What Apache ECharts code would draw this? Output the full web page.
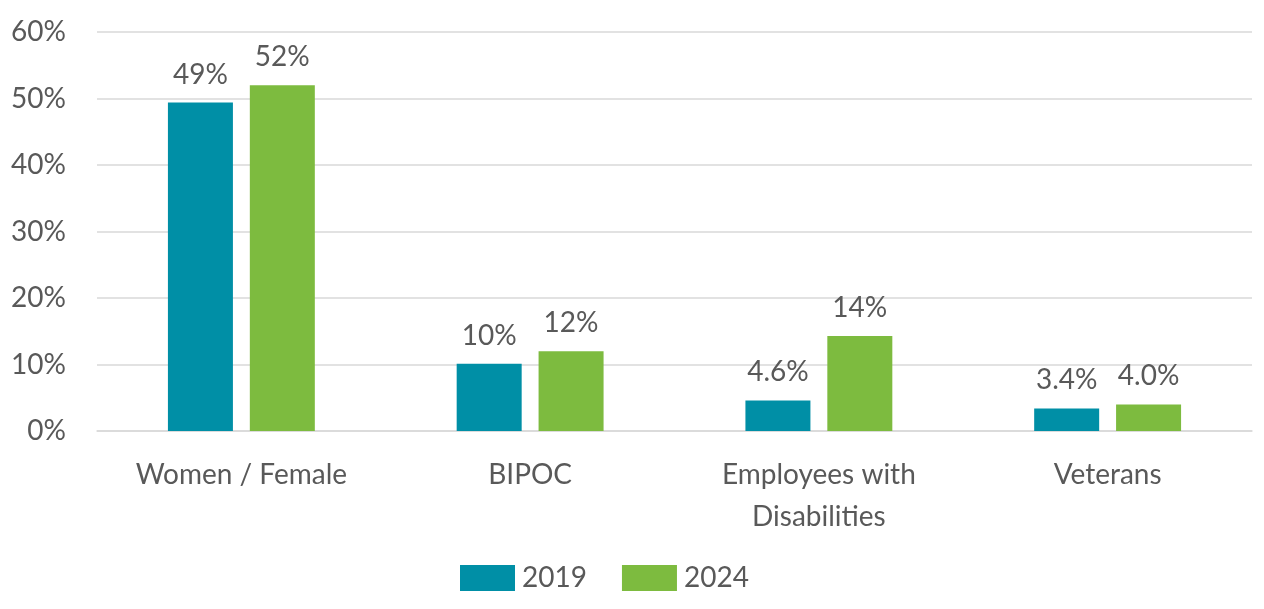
<!DOCTYPE html>
<html>
<head>
<meta charset="utf-8">
<script src="https://cdn.jsdelivr.net/npm/echarts@6/dist/echarts.min.js"></script>
<style>
  html, body { margin: 0; padding: 0; background: #fff; }
  #viz { width: 1264px; height: 609px; }
</style>
</head>
<body>
<div id="viz"></div>
<script>
// Workforce representation, 2019 vs 2024
const categories = ['Women / Female', 'BIPOC', 'Employees with\nDisabilities', 'Veterans'];
const values2019 = [49.4, 10.1, 4.6, 3.4];
const values2024 = [52.0, 12.0, 14.3, 4.0];
const labels2019 = ['49%', '10%', '4.6%', '3.4%'];
const labels2024 = ['52%', '12%', '14%', '4.0%'];
const yTicks = [0, 10, 20, 30, 40, 50, 60];

const textColor = '#595959';
const fontFamily = 'Lato, "Open Sans", sans-serif';

function labelFrom(list) {
    return {
        show: true,
        position: 'top',
        distance: 14,
        color: textColor,
        fontSize: 28,
        fontFamily: fontFamily,
        formatter: p => list[p.dataIndex]
    };
}

var myChart = echarts.init(document.getElementById('viz'));

var option = {
    animation: false,
    grid: { left: 97, right: 12, top: 32, bottom: 178 },
    legend: {
        left: 455,
        top: 559,
        icon: 'rect',
        itemWidth: 55,
        itemHeight: 26,
        itemGap: 35,
        textStyle: { color: textColor, fontSize: 28, fontFamily: fontFamily, padding: [0, 0, 0, 2] },
        data: ['2019', '2024']
    },
    xAxis: {
        type: 'category',
        data: categories,
        axisLine: { lineStyle: { color: '#d9d9d9', width: 1.5 } },
        axisTick: { show: false },
        axisLabel: {
            color: textColor,
            fontSize: 28,
            fontFamily: fontFamily,
            lineHeight: 42,
            margin: 23
        }
    },
    yAxis: {
        type: 'value',
        min: yTicks[0],
        max: yTicks[yTicks.length - 1],
        interval: 10,
        axisLine: { show: false },
        axisTick: { show: false },
        splitLine: { lineStyle: { color: '#d9d9d9', width: 1.5 } },
        axisLabel: {
            color: textColor,
            fontSize: 28,
            fontFamily: fontFamily,
            margin: 31,
            formatter: v => v + '%'
        }
    },
    series: [
        {
            name: '2019',
            type: 'bar',
            data: values2019,
            barWidth: 65,
            barGap: '26%',
            itemStyle: { color: '#008fa6' },
            label: labelFrom(labels2019)
        },
        {
            name: '2024',
            type: 'bar',
            data: values2024,
            barWidth: 65,
            itemStyle: { color: '#7dbb3f' },
            label: labelFrom(labels2024)
        }
    ]
};

myChart.setOption(option);
</script>
</body>
</html>
